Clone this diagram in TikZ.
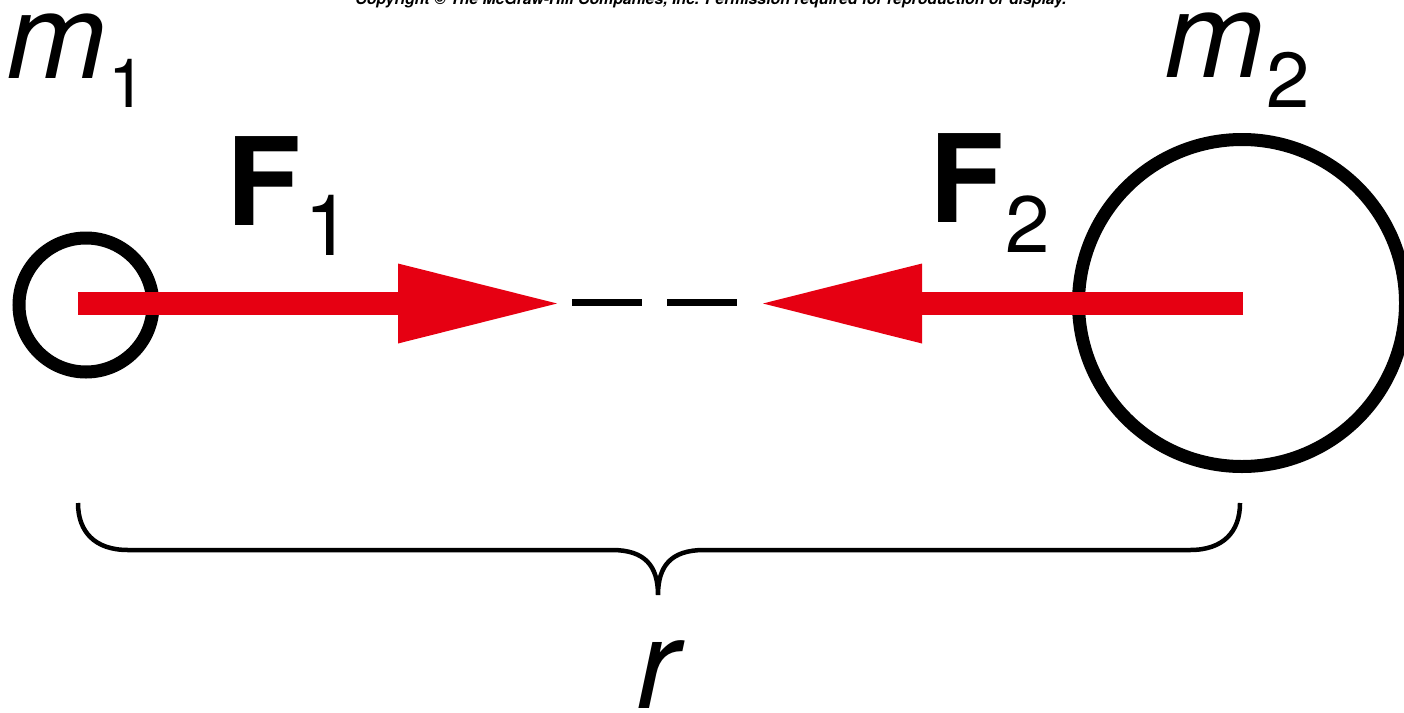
\documentclass[tikz,border=0pt]{standalone}
\usepackage{fontspec}
\setmainfont{TeX Gyre Heros}
\usetikzlibrary{arrows.meta}
\definecolor{fred}{RGB}{230,0,18}
\begin{document}
\begin{tikzpicture}[x=1pt,y=-1pt,
  mass/.style={circle,draw=black,line width=13pt,inner sep=0pt},
  force/.style={draw=fred,line width=23pt,-{Triangle[length=159pt,width=80pt,line width=0pt]},fill=fred},
  gap/.style={draw=black,line width=7pt,dash pattern=on 70pt off 25pt},
  brace/.style={draw=black,line width=4.5pt},
  lbl/.style={inner sep=0pt,anchor=base west},
  big/.style={font=\fontsize{120}{120}\selectfont}]
\useasboundingbox (0,0) rectangle (1404,712);
% copyright line (cut off at the top)
\node[inner sep=0pt,anchor=base,font=\fontsize{15.8}{15.8}\selectfont\bfseries\itshape] (copy) at (711,4.5)
  {Copyright © The McGraw-Hill Companies, Inc. Permission required for reproduction or display.};
% masses
\node[mass,minimum size=134pt] (m1c) at (86,305) {};
\node[mass,minimum size=327pt] (m2c) at (1242,303) {};
% force arrows
\coordinate (s1) at (78,303.5);
\coordinate (t1) at (557,303.5);
\coordinate (s2) at (1243,303.5);
\coordinate (t2) at (763,303.5);
\draw[force] (s1) -- (t1);
\draw[force] (s2) -- (t2);
% dashed line between tips
\coordinate (d1) at (572,302.5);
\coordinate (d2) at (737,302.5);
\draw[gap] (d1) -- (d2);
% brace
\coordinate (bl) at (78,503);
\coordinate (bt) at (658,595);
\coordinate (br) at (1240,503);
\draw[brace] (bl) .. controls (78,532) and (95,550) .. (128,550) -- (612,550)
  .. controls (645,550) and (658,566) .. (bt)
  .. controls (658,566) and (671,550) .. (704,550) -- (1190,550)
  .. controls (1223,550) and (1240,532) .. (br);
% labels
\node[lbl,big,text height=62pt,text depth=30pt] (lm1) at (6,78) {\itshape m\kern2pt\raisebox{-29pt}{\fontsize{68}{68}\selectfont\upshape 1}};
\node[lbl,big,text height=62pt,text depth=31pt] (lm2) at (1164,77) {\itshape m\kern2pt\raisebox{-30pt}{\fontsize{78}{78}\selectfont\upshape 2}};
\node[lbl,font=\fontsize{122}{122}\selectfont,text height=90pt,text depth=30pt] (lF1) at (226,225) {\bfseries F\kern4pt\raisebox{-30pt}{\fontsize{85}{85}\selectfont\mdseries 1}};
\node[lbl,font=\fontsize{122}{122}\selectfont,text height=90pt,text depth=30pt] (lF2) at (929,222) {\bfseries F\kern2pt\raisebox{-30pt}{\fontsize{80}{80}\selectfont\mdseries 2}};
\node[lbl,font=\fontsize{126}{126}\selectfont\itshape,text height=68pt,text depth=0pt] (lr) at (636,708) {r};
\end{tikzpicture}
\end{document}
